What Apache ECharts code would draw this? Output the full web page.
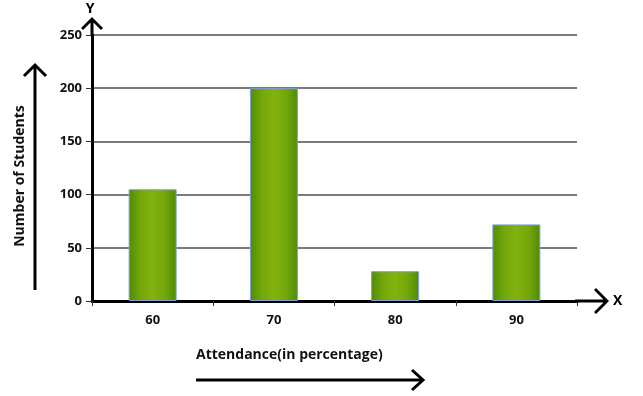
<!DOCTYPE html>
<html>
<head>
<meta charset="utf-8">
<script src="https://cdn.jsdelivr.net/npm/echarts@6/dist/echarts.min.js"></script>
<style>html,body{margin:0;padding:0;background:#fff}#c{width:643px;height:396px}</style>
</head>
<body>
<div id="c"></div>
<script>
const categories = ['60', '70', '80', '90'];
const students = [105, 200, 28, 72];
const yMin = 0, yMax = 250, yStep = 50;
const xTitle = 'Attendance(in percentage)';
const yTitle = 'Number of Students';

const FONT = '"Open Sans"';
const arrowY = 'path://M11 0 L22 11 L20 13 L12.5 5.5 L12.5 19 L9.5 19 L9.5 5.5 L2 13 L0 11 Z';
const arrowX = 'path://M13 0 L26 13 L24 15 L14.5 5.5 L14.5 34 L11.5 34 L11.5 5.5 L2 15 L0 13 Z';

const chart = echarts.init(document.getElementById('c'));
chart.setOption({
  animation: false,
  backgroundColor: '#fff',
  grid: { left: 92, right: 66, top: 35, bottom: 95, containLabel: false },
  xAxis: {
    type: 'category',
    data: categories,
    name: 'X',
    nameLocation: 'end',
    nameGap: 36,
    nameTextStyle: { fontFamily: FONT, fontWeight: 'bold', fontSize: 14, color: '#000' },
    axisLine: { show: true, lineStyle: { color: '#000', width: 3 }, symbol: ['none', arrowX], symbolSize: [26, 34], symbolOffset: [0, 15] },
    axisTick: { show: true, length: 5, lineStyle: { color: '#333', width: 1 } },
    axisLabel: { fontFamily: FONT, fontWeight: 'bold', fontSize: 13, color: '#111', margin: 13 },
    splitLine: { show: false }
  },
  yAxis: {
    type: 'value',
    min: yMin, max: yMax, interval: yStep,
    name: 'Y',
    nameLocation: 'end',
    nameGap: 19,
    nameTextStyle: { fontFamily: FONT, fontWeight: 'bold', fontSize: 14, color: '#000', padding: [0, 4, 0, 0] },
    axisLine: { show: true, lineStyle: { color: '#000', width: 3 }, symbol: ['none', arrowY], symbolSize: [22, 19], symbolOffset: [0, 8.5] },
    axisTick: { show: true, length: 6, lineStyle: { color: '#333', width: 1 } },
    axisLabel: { fontFamily: FONT, fontWeight: 'bold', fontSize: 13, color: '#111', margin: 10 },
    splitLine: { show: true, lineStyle: { color: '#7a7a7a', width: 2 } }
  },
  series: [{
    type: 'bar',
    data: students,
    barWidth: 48,
    itemStyle: {
      color: {
        type: 'linear', x: 0, y: 0, x2: 1, y2: 0,
        colorStops: [
          { offset: 0, color: '#4f8b04' },
          { offset: 0.25, color: '#74a70b' },
          { offset: 0.5, color: '#83b20e' },
          { offset: 0.75, color: '#74a70b' },
          { offset: 1, color: '#4f8b04' }
        ]
      },
      borderColor: '#7fa0d8',
      borderWidth: 1
    }
  }],
  graphic: [
    { type: 'polyline', shape: { points: [[35, 290], [35, 65]] }, style: { stroke: '#000', lineWidth: 3, fill: null } },
    { type: 'polyline', shape: { points: [[24, 76], [35, 65], [46, 76]] }, style: { stroke: '#000', lineWidth: 3, fill: null } },
    { type: 'polyline', shape: { points: [[196, 380], [422, 380]] }, style: { stroke: '#000', lineWidth: 3, fill: null } },
    { type: 'polyline', shape: { points: [[412, 370], [423, 380], [412, 390]] }, style: { stroke: '#000', lineWidth: 3, fill: null } },
    { type: 'text', x: 20, y: 176, rotation: Math.PI / 2,
      style: { text: yTitle, fontFamily: FONT, fontWeight: 'bold', fontSize: 14, fill: '#111', textAlign: 'center', textVerticalAlign: 'middle' } },
    { type: 'text', x: 196, y: 355,
      style: { text: xTitle, fontFamily: FONT, fontWeight: 'bold', fontSize: 14, fill: '#111', textAlign: 'left', textVerticalAlign: 'middle' } }
  ]
});
</script>
</body>
</html>
